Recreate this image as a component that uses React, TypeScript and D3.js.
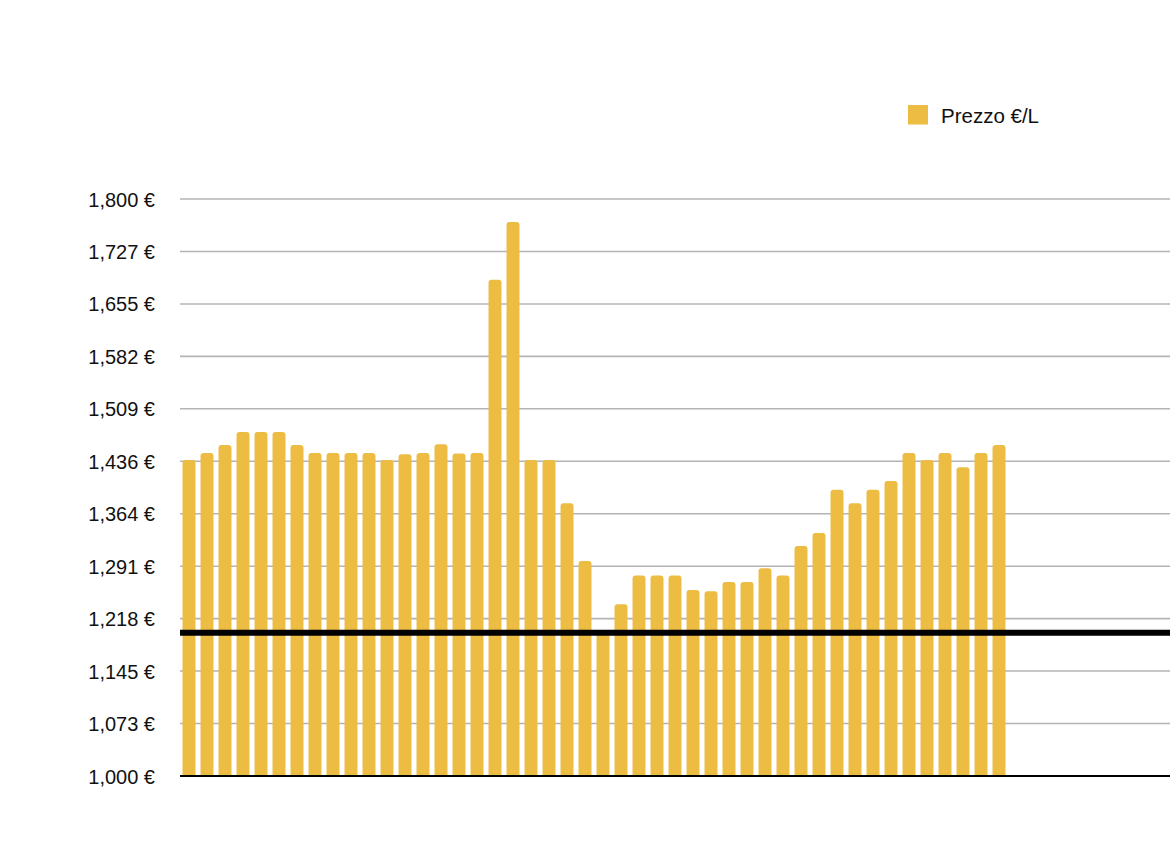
import React, { useEffect, useRef } from "react";
import * as d3 from "d3";

// Prezzo settimanale (€/L)
const prices: number[] = [
  1.438, 1.448, 1.459, 1.477, 1.477, 1.477, 1.459, 1.448, 1.448, 1.448,
  1.448, 1.438, 1.446, 1.448, 1.46, 1.447, 1.448, 1.688, 1.768, 1.438,
  1.438, 1.378, 1.298, 1.2, 1.238, 1.278, 1.278, 1.278, 1.258, 1.256,
  1.269, 1.269, 1.288, 1.278, 1.319, 1.337, 1.397, 1.378, 1.397, 1.409,
  1.448, 1.438, 1.448, 1.428, 1.448, 1.459,
];
const categories: string[] = prices.map((_, i) => `${i + 1}`);

const tickValues: number[] = [
  1.0, 1.0727, 1.1455, 1.2182, 1.2909, 1.3636, 1.4364, 1.5091, 1.5818, 1.6545, 1.7273, 1.8,
];
const tickLabels: string[] = [
  "1,000 €", "1,073 €", "1,145 €", "1,218 €", "1,291 €", "1,364 €",
  "1,436 €", "1,509 €", "1,582 €", "1,655 €", "1,727 €", "1,800 €",
];
const referenceLevel = 1.2;
const seriesName = "Prezzo €/L";

const W = 1170;
const H = 865;
const BAR = "#EDBD43";
const FONT = "'Liberation Sans', Arial, Helvetica, sans-serif";

export default function App() {
  const ref = useRef<SVGSVGElement>(null);

  useEffect(() => {
    const svg = d3.select(ref.current);
    svg.selectAll("*").remove();

    const left = 180;
    const right = 1170;
    const y = d3.scaleLinear().domain([1.0, 1.8]).range([776, 199]);
    const x = d3
      .scaleBand<string>()
      .domain(categories)
      .range([left, left + categories.length * 18])
      .paddingInner(0.28)
      .paddingOuter(0.14);

    // gridlines
    svg.append("g")
      .selectAll("line")
      .data(tickValues.slice(1))
      .enter()
      .append("line")
      .attr("x1", left)
      .attr("x2", right)
      .attr("y1", d => y(d))
      .attr("y2", d => y(d))
      .style("stroke", "#B4B4B4")
      .style("stroke-width", 1.6);

    // tick labels
    svg.append("g")
      .selectAll("text")
      .data(tickValues)
      .enter()
      .append("text")
      .attr("x", 155)
      .attr("y", d => y(d) + 7.5)
      .attr("text-anchor", "end")
      .style("font-family", FONT)
      .style("font-size", "20px")
      .style("fill", "#111")
      .text((d, i) => tickLabels[i]);

    // bars with rounded tops
    const r = 3;
    const bw = x.bandwidth();
    svg.append("g")
      .selectAll("path")
      .data(prices)
      .enter()
      .append("path")
      .attr("d", (d, i) => {
        const x0 = x(categories[i]) as number;
        const y0 = y(d);
        const yb = y(1.0);
        return `M${x0},${yb}V${y0 + r}Q${x0},${y0} ${x0 + r},${y0}H${x0 + bw - r}Q${x0 + bw},${y0} ${x0 + bw},${y0 + r}V${yb}Z`;
      })
      .style("fill", BAR);

    // baseline
    svg.append("line")
      .attr("x1", left)
      .attr("x2", right)
      .attr("y1", y(1.0))
      .attr("y2", y(1.0))
      .style("stroke", "#000")
      .style("stroke-width", 2);

    // reference line at 1,2 €
    svg.append("line")
      .attr("x1", left)
      .attr("x2", right)
      .attr("y1", y(referenceLevel) + 1)
      .attr("y2", y(referenceLevel) + 1)
      .style("stroke", "#000")
      .style("stroke-width", 6);

    // legend
    const lg = svg.append("g").attr("transform", "translate(908,105)");
    lg.append("rect").attr("width", 20).attr("height", 19.5).style("fill", BAR);
    lg.append("text")
      .attr("x", 33)
      .attr("y", 17.5)
      .style("font-family", FONT)
      .style("font-size", "20.5px")
      .style("fill", "#111")
      .text(seriesName);
  }, []);

  return (
    <svg
      ref={ref}
      width={W}
      height={H}
      style={{ position: "absolute", left: 0, top: 0, background: "#fff" }}
    />
  );
}
